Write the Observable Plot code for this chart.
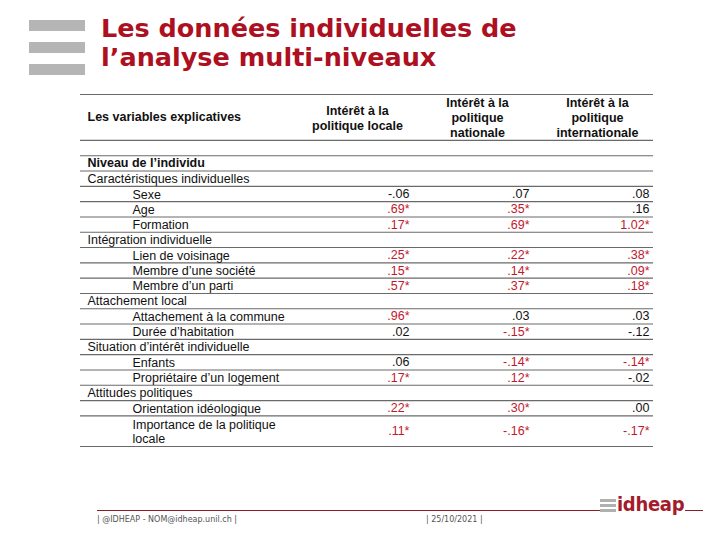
<!DOCTYPE html>
<html>
<head>
<meta charset="utf-8">
<script src="https://cdn.jsdelivr.net/npm/d3@7"></script>
<script src="https://cdn.jsdelivr.net/npm/@observablehq/plot@0.6"></script>
<style>
  html, body { margin: 0; padding: 0; background: #fff; }
  #slide { position: relative; width: 720px; height: 540px; overflow: hidden; background: #fff; }
  .bar { position: absolute; left: 29px; width: 56px; height: 11px; background: #b5b5b5; }
  #title { position: absolute; left: 101px; top: 14px; font-family: "DejaVu Sans", Verdana, sans-serif;
           font-weight: bold; font-size: 25.5px; line-height: 29px; color: #ad1021; white-space: nowrap; }
  #chart { position: absolute; left: 0; top: 84px; }
  .fline { position: absolute; height: 1px; background: #8e1b25; }
  .ftext { position: absolute; top: 515px; font-family: "DejaVu Sans", Verdana, sans-serif; font-size: 8px; color: #555; white-space: nowrap; }
  .lbar { position: absolute; left: 600px; width: 16px; height: 3px; background: #b0b0b0; }
  #logo { position: absolute; left: 617px; top: 492px; font-family: "DejaVu Sans Condensed", "Liberation Sans Narrow", sans-serif;
          font-stretch: condensed; font-weight: bold; font-size: 20px; color: #a41c2a; letter-spacing: -0.3px; }
</style>
</head>
<body>
<div id="slide">
  <div class="bar" style="top:20px"></div>
  <div class="bar" style="top:42px"></div>
  <div class="bar" style="top:64px"></div>
  <div id="title"></div>
  <div id="chart"></div>
  <div class="fline" style="left:97px; top:510px; width:503px"></div>
  <div class="lbar" style="top:499px"></div>
  <div class="lbar" style="top:504px"></div>
  <div class="lbar" style="top:509px"></div>
  <div id="logo">idheap</div>
  <div class="fline" style="left:685px; top:510px; width:18px"></div>
  <div class="ftext" id="foot1" style="left:97px"></div>
  <div class="ftext" id="foot2" style="left:426px"></div>
</div>
<script>
// ---- Texts ----
const titleLines = ["Les données individuelles de", "l’analyse multi-niveaux"];
const footerLeft = "| @IDHEAP - NOM@idheap.unil.ch |";
const footerDate = "| 25/10/2021 |";

// ---- Table structure ----
const headerLabels = [
  "Les variables explicatives",
  "Intérêt à la\npolitique locale",
  "Intérêt à la\npolitique\nnationale",
  "Intérêt à la\npolitique\ninternationale"
];
const rowLabels = [
  "Niveau de l’individu",
  "Caractéristiques individuelles",
  "Sexe", "Age", "Formation",
  "Intégration individuelle",
  "Lien de voisinage", "Membre d’une société", "Membre d’un parti",
  "Attachement local",
  "Attachement à la commune", "Durée d’habitation",
  "Situation d’intérêt individuelle",
  "Enfants", "Propriétaire d’un logement",
  "Attitudes politiques",
  "Orientation idéologique", "Importance de la politique\nlocale"
];
const rowLevel = [0, 1, 2, 2, 2, 1, 2, 2, 2, 1, 2, 2, 1, 2, 2, 1, 2, 2];

// ---- Values ----
const variables = [
  "Sexe", "Age", "Formation", "Lien de voisinage", "Membre d’une société", "Membre d’un parti",
  "Attachement à la commune", "Durée d’habitation", "Enfants", "Propriétaire d’un logement",
  "Orientation idéologique", "Importance de la politique locale"
];
const locale         = [-0.06, 0.69, 0.17, 0.25, 0.15, 0.57, 0.96, 0.02, 0.06, 0.17, 0.22, 0.11];
const localeSig      = [false, true, true, true, true, true, true, false, false, true, true, true];
const nationale      = [0.07, 0.35, 0.69, 0.22, 0.14, 0.37, 0.03, -0.15, -0.14, 0.12, 0.30, -0.16];
const nationaleSig   = [false, true, true, true, true, true, false, true, true, true, true, true];
const internationale = [0.08, 0.16, 1.02, 0.38, 0.09, 0.18, 0.03, -0.12, -0.14, -0.02, 0.00, -0.17];
const internationaleSig = [false, false, true, true, true, true, false, false, true, false, false, true];

// ---- Build ----
document.getElementById("title").innerHTML = titleLines.join("<br>");
document.getElementById("foot1").textContent = footerLeft;
document.getElementById("foot2").textContent = footerDate;

const valueCols = headerLabels.slice(1);
const headerSpan = d3.max(headerLabels, d => d.split("\n").length);

let u = headerSpan + 1; // header + blank row
const rows = rowLabels.map((label, i) => {
  const span = label.split("\n").length;
  const r = {label, level: rowLevel[i], start: u, span, center: u + span / 2};
  u += span;
  return r;
});
const total = u;
const boundaries = [0, headerSpan, headerSpan + 1, ...rows.map(r => r.start + r.span)];
const centerOf = new Map(rows.map(r => [r.label.replace("\n", " "), r.center]));

const series = [[locale, localeSig], [nationale, nationaleSig], [internationale, internationaleSig]];
const fmt = v => d3.format(".2f")(v).replace("\u2212", "-").replace(/^(-?)0\./, "$1.");
const cells = [];
series.forEach(([vals, sigs], c) => {
  variables.forEach((name, i) => {
    cells.push({col: valueCols[c], y: centerOf.get(name), text: fmt(vals[i]) + (sigs[i] ? "*" : ""), sig: sigs[i]});
  });
});

const FONT = "Liberation Sans, Arial, Helvetica, sans-serif";
const FS = 12.5;
const RED = "#c2182d";

const chart = Plot.plot({
  width: 720,
  height: 370,
  marginLeft: 80,
  marginRight: 67,
  marginTop: 10,
  marginBottom: 8,
  x: {type: "point", domain: valueCols, range: [357, 597], padding: 0, axis: null},
  y: {domain: [0, total], range: [10, 362], axis: null},
  marks: [
    Plot.ruleY(boundaries, {stroke: "#6a6a6a", strokeWidth: 1.1}),
    Plot.text([headerLabels[0]], {frameAnchor: "left", dx: 7, y: () => headerSpan / 2, text: d => d,
      fontWeight: "bold", fontSize: FS, fontFamily: FONT, fill: "#111"}),
    Plot.text(valueCols, {x: d => d, y: () => headerSpan / 2, text: d => d, textAnchor: "middle",
      fontWeight: "bold", fontSize: FS, fontFamily: FONT, lineHeight: 1.2, fill: "#111"}),
    Plot.text(rows.filter(r => r.level === 0), {frameAnchor: "left", dx: 7, y: "center", text: "label",
      fontWeight: "bold", fontSize: FS, fontFamily: FONT, fill: "#111"}),
    Plot.text(rows.filter(r => r.level === 1), {frameAnchor: "left", dx: 7, y: "center", text: "label",
      fontSize: FS, fontFamily: FONT, fill: "#111"}),
    Plot.text(rows.filter(r => r.level === 2), {frameAnchor: "left", dx: 52, y: "center", text: "label",
      fontSize: FS, fontFamily: FONT, lineHeight: 1.15, fill: "#111"}),
    Plot.text(cells, {x: "col", y: "y", text: "text", textAnchor: "end", dx: 52,
      fill: d => d.sig ? RED : "#111", fontSize: FS, fontFamily: FONT})
  ]
});
document.getElementById("chart").appendChild(chart);
</script>
</body>
</html>
